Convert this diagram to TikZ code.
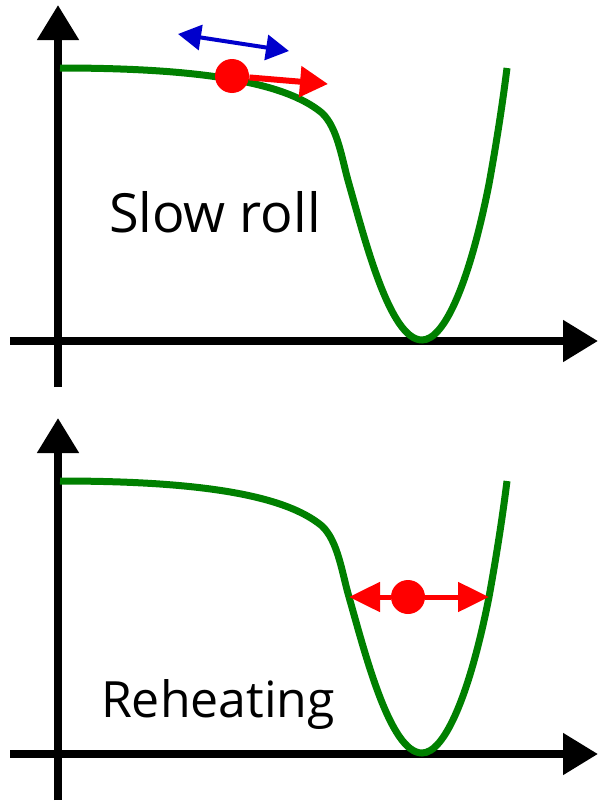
\documentclass[tikz,border=0pt]{standalone}
\usepackage{fontspec}
\setmainfont{Open Sans}
\usetikzlibrary{arrows.meta}

\begin{document}
\begin{tikzpicture}[
  x=0.5pt, y=-0.5pt,
  axis/.style={line width=4pt, -{Triangle[length=17.5pt, width=20pt]}},
  potential/.style={line width=3.5pt, draw=green!50!black},
  ball/.style={circle, fill=red, inner sep=0pt, minimum size=17pt},
  push/.style={line width=3pt, red, -{Triangle[length=14pt, width=15pt]}},
  sway/.style={line width=2pt, blue!80!black, {Triangle[length=11.5pt, width=12.5pt]}-{Triangle[length=11.5pt, width=12.5pt]}},
  osc/.style={line width=2.5pt, red, -{Triangle[length=15.5pt, width=14.5pt]}},
  lbl/.style={font=\fontsize{25}{30}\selectfont, anchor=base},
]
\useasboundingbox (0,0) rectangle (602,803);

% === Axes and potential (both panels) ===
\foreach \dy/\p in {0/top, 413/bot} {
  \begin{scope}[shift={(0,\dy)}]
    \coordinate (\p-y0) at (58,387);
    \coordinate (\p-y1) at (58,5);
    \coordinate (\p-x0) at (10,341);
    \coordinate (\p-x1) at (598,341);
    \draw[axis] (\p-y0) -- (\p-y1);
    \draw[axis] (\p-x0) -- (\p-x1);
    \draw[potential] (60,68) .. controls (200,68) and (285,82) .. (322,113)
      .. controls (338,128) and (342,160) .. (349,184)
      .. controls (365,240) and (390,340) .. (422,340)
      .. controls (445,340) and (470,280) .. (489,184)
      .. controls (497,140) and (503,100) .. (507,68);
  \end{scope}
}

% === Slow roll ===
\coordinate (sway-l) at (178,34);
\coordinate (sway-r) at (289,51);
\draw[sway] (sway-l) -- (sway-r);

\node[ball] (ball1) at (232,76) {};
\coordinate (push-end) at (328,84);
\draw[push] (ball1) -- (push-end);

\node[lbl, font=\fontsize{27}{32}\selectfont] (slowroll) at (215,232) {Slow roll};

% === Reheating ===
\node[ball] (ball2) at (408,597) {};
\coordinate (osc-l) at (349,597);
\coordinate (osc-r) at (489,597);
\draw[osc] (ball2) -- (osc-l);
\draw[osc] (ball2) -- (osc-r);

\node[lbl] (reheat) at (218,717) {Reheating};

\end{tikzpicture}
\end{document}
